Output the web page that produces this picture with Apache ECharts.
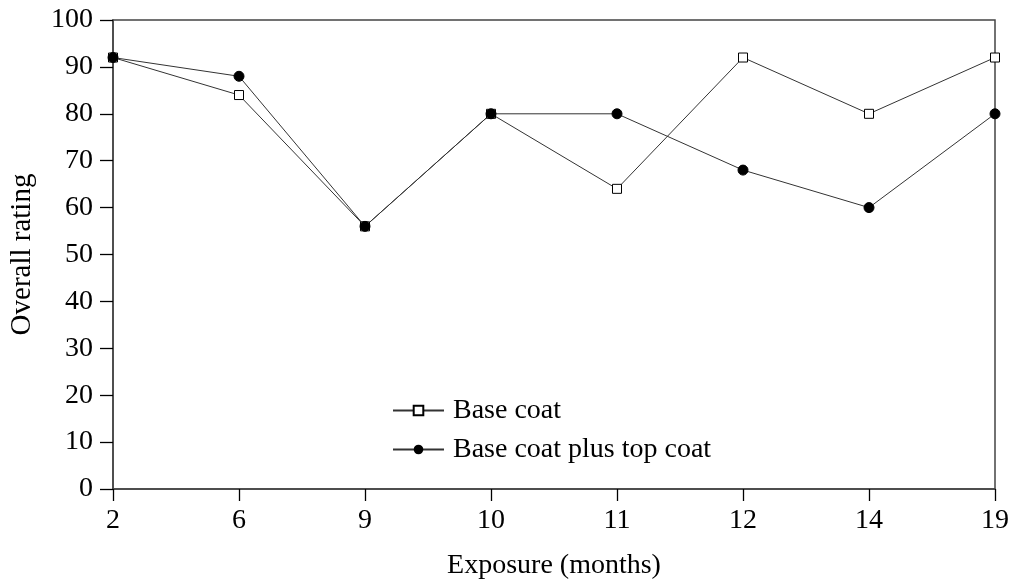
<!DOCTYPE html>
<html><head><meta charset="utf-8">
<script src="https://cdn.jsdelivr.net/npm/echarts@6/dist/echarts.min.js"></script>
<style>html,body{margin:0;padding:0;background:#fff}#c{width:1012px;height:586px}</style>
</head><body><div id="c"></div>
<script>
const categories = ['2','6','9','10','11','12','14','19'];
const baseCoat = [92,84,56,80,64,92,80,92];
const baseTopCoat = [92,88,56,80,80,68,60,80];
const yTicks = [0,10,20,30,40,50,60,70,80,90,100];

const chart = echarts.init(document.getElementById('c'));
const font = 'Liberation Serif, Times New Roman, serif';
const axisLine = {show:true, lineStyle:{color:'#444', width:1.5}};
chart.setOption({
  animation:false,
  textStyle:{fontFamily:font},
  grid:{left:113, right:17, top:20, bottom:97, show:true, borderColor:'#444', borderWidth:1.5, containLabel:false},
  legend:{
    left:387, top:391, orient:'vertical', itemGap:10, itemWidth:51, itemHeight:12,
    textStyle:{fontFamily:font, fontSize:28, lineHeight:29, color:'#000', padding:[0,0,0,4]},
    data:['Base coat','Base coat plus top coat']
  },
  xAxis:{
    type:'category', data:categories, boundaryGap:false,
    name:'Exposure (months)', nameLocation:'middle', nameGap:63,
    nameTextStyle:{fontFamily:font, fontSize:28, color:'#000'},
    axisLine:axisLine,
    axisTick:{show:true, inside:false, length:12, alignWithLabel:true, lineStyle:{color:'#000', width:1.3}},
    axisLabel:{fontFamily:font, fontSize:28, color:'#000', margin:18},
    splitLine:{show:false}
  },
  yAxis:{
    type:'value', min:0, max:100, interval:10,
    name:'Overall rating', nameLocation:'middle', nameGap:76,
    nameTextStyle:{fontFamily:font, fontSize:29, color:'#000'},
    axisLine:axisLine,
    axisTick:{show:true, inside:false, length:13, lineStyle:{color:'#000', width:1.3}},
    axisLabel:{fontFamily:font, fontSize:28, color:'#000', margin:20,
      formatter:v=>yTicks.includes(v)?String(v):''},
    splitLine:{show:false}
  },
  series:[
    {name:'Base coat', type:'line', data:baseCoat, symbol:'rect', symbolSize:9,
     lineStyle:{color:'#333', width:1}, itemStyle:{color:'#fff', borderColor:'#000', borderWidth:1}},
    {name:'Base coat plus top coat', type:'line', data:baseTopCoat, symbol:'circle', symbolSize:10,
     lineStyle:{color:'#333', width:1}, itemStyle:{color:'#000', borderColor:'#000'}}
  ]
});
</script></body></html>
